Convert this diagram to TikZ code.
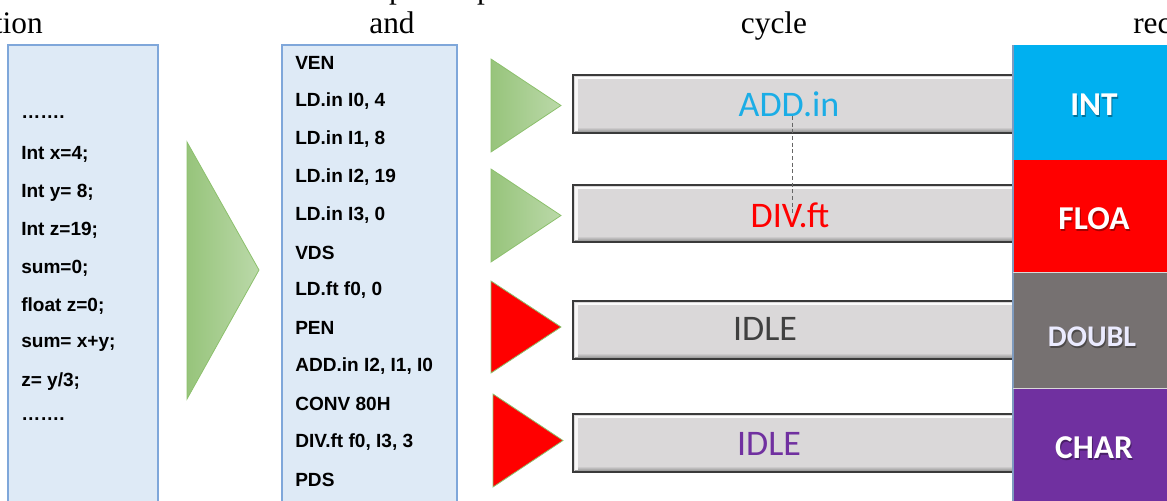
\documentclass[tikz,border=0pt]{standalone}
\usepackage{fontspec}
\setmainfont{Liberation Serif}
\newfontfamily\codefont{Liberation Sans}
\newfontfamily\calfont{Carlito}
\definecolor{boxfill}{HTML}{DEEAF6}
\definecolor{boxline}{HTML}{7FA7DA}
\definecolor{grnL}{HTML}{97C47B}
\definecolor{grnR}{HTML}{BBD9A9}
\definecolor{grnLine}{HTML}{8CC06C}
\definecolor{barfill}{HTML}{DAD8D9}
\definecolor{barline}{HTML}{3A3A3A}
\definecolor{cyanT}{HTML}{1BADE6}
\definecolor{idleT}{HTML}{404040}
\definecolor{purp}{HTML}{7030A0}
\definecolor{regcyan}{HTML}{00B0F0}
\definecolor{reggray}{HTML}{767171}
\def\mydotline{…….}
\tikzset{
  codebox/.style={fill=boxfill,draw=boxline,line width=1pt},
  codeline/.style={anchor=west,inner sep=0pt,font=\codefont\bfseries\fontsize{14.3}{16}\selectfont},
  toptext/.style={inner sep=0pt,font=\fontsize{23.5}{26}\selectfont},
  bartext/.style={inner sep=0pt,font=\calfont\fontsize{27}{30}\selectfont},
  regtext/.style={inner sep=0pt,text=white,font=\calfont\bfseries\fontsize{25}{28}\selectfont},
  regshadow/.style={inner sep=0pt,text=black,opacity=0.35,font=\calfont\bfseries\fontsize{25}{28}\selectfont},
}
\newcommand{\bevelbar}[3]{%
  \fill[barfill] (573,#1) rectangle (1014,#2);
  \fill[white!92!barfill] (575,#1+1.5) rectangle (1012,#1+4);
  \shade[top color=barfill,bottom color=gray!80] (575,#2-6) rectangle (1012,#2-1.5);
  \fill[white!80!barfill] (575,#1+1.5) rectangle (578,#2-2);
  \draw[barline,line width=1.6pt] (573,#1) rectangle (1014,#2);
  \coordinate (#3) at (793,{(#1+#2)/2});
}
\begin{document}
\begin{tikzpicture}[x=0.75pt,y=-0.75pt]
\useasboundingbox (0,0) rectangle (1167,500);
\begin{scope}
\clip (0,0) rectangle (1167,500);
% top clipped heading texts
\node[toptext,anchor=base east] (t1) at (43,33) {tion};
\node[toptext,anchor=base] (t2) at (392,33) {and};
\node[toptext,anchor=base] (t3) at (774,33) {cycle};
\node[toptext,anchor=base west] (t4) at (1133,33) {rec};
\node[toptext,anchor=base] (t5) at (397,-2) {p};
\node[toptext,anchor=base] (t6) at (485,-2) {p};

% source code box
\draw[codebox] (8,45) rectangle (158,510);
\foreach \t [count=\i] in {\mydotline,{Int x=4;},{Int y= 8;},{Int z=19;},{sum=0;},{float z=0;},{sum= x+y;},{z= y/3;},\mydotline}
  \node[codeline] (c\i) at (21,{117+37.8*(\i-1)}) {\t};

% big arrow
\shade[left color=grnL,right color=grnR,draw=grnLine,line width=0.6pt]
  (187,142) -- (259,270) -- (187,399) -- cycle;

% instruction box
\draw[codebox] (282,45) rectangle (457,510);
\foreach \t [count=\i] in {VEN,{LD.in I0, 4},{LD.in I1, 8},{LD.in I2, 19},{LD.in I3, 0},VDS,{LD.ft f0, 0},PEN,{ADD.in I2, I1, I0},{CONV 80H},{DIV.ft f0, I3, 3},PDS}
  \node[codeline] (m\i) at (295,{63+37.9*(\i-1)}) {\t};

% small triangles
\shade[left color=grnL,right color=grnR,draw=grnLine,line width=0.6pt]
  (491,59) -- (561,105.5) -- (491,152) -- cycle;
\shade[left color=grnL,right color=grnR,draw=grnLine,line width=0.6pt]
  (491,169) -- (561,215.5) -- (491,262) -- cycle;
\fill[red,draw=grnLine,line width=0.6pt] (491,281) -- (561,327) -- (491,373) -- cycle;
\fill[red,draw=grnLine,line width=0.6pt] (493,394) -- (563,440.5) -- (493,487) -- cycle;

% bars
\bevelbar{75}{133}{b1}
\bevelbar{185}{242}{b2}
\bevelbar{301}{359}{b3}
\bevelbar{414}{472}{b4}
\node[bartext,text=cyanT] (add) at (789,104) {ADD.in};
\node[bartext,text=red] (div) at (790,215) {DIV.ft};
\node[bartext,text=idleT] (idle1) at (765,329) {IDLE};
\node[bartext,text=purp] (idle2) at (769,444) {IDLE};
\coordinate (d1) at (792,116);
\coordinate (d2) at (792,213);
\draw[gray!80!black,line width=0.6pt,dash pattern=on 3pt off 2pt] (d1) -- (d2);

% register column
\fill[regcyan] (1013,45) rectangle (1170,160);
\fill[red] (1013,160) rectangle (1170,272);
\fill[reggray] (1013,272) rectangle (1170,388);
\fill[purp] (1013,388) rectangle (1170,505);
\draw[boxline!70!gray,line width=0.8pt] (1013,45) -- (1013,505);
\draw[white!70!gray,line width=0.5pt] (1013,272) -- (1170,272) (1013,388) -- (1170,388);
\node[regshadow] at (1095,107) {INT};
\node[regtext] (r1) at (1094,105) {INT};
\node[regshadow] at (1095,221) {FLOA};
\node[regtext] (r2) at (1094,219) {FLOA};
\node[regshadow,font=\calfont\bfseries\fontsize{22.5}{26}\selectfont] at (1093,339) {DOUBL};
\node[regtext,font=\calfont\bfseries\fontsize{22.5}{26}\selectfont,text=white!92!blue] (r3) at (1092,337) {DOUBL};
\node[regshadow] at (1095,450) {CHAR};
\node[regtext] (r4) at (1094,448) {CHAR};
\end{scope}
\end{tikzpicture}
\end{document}
